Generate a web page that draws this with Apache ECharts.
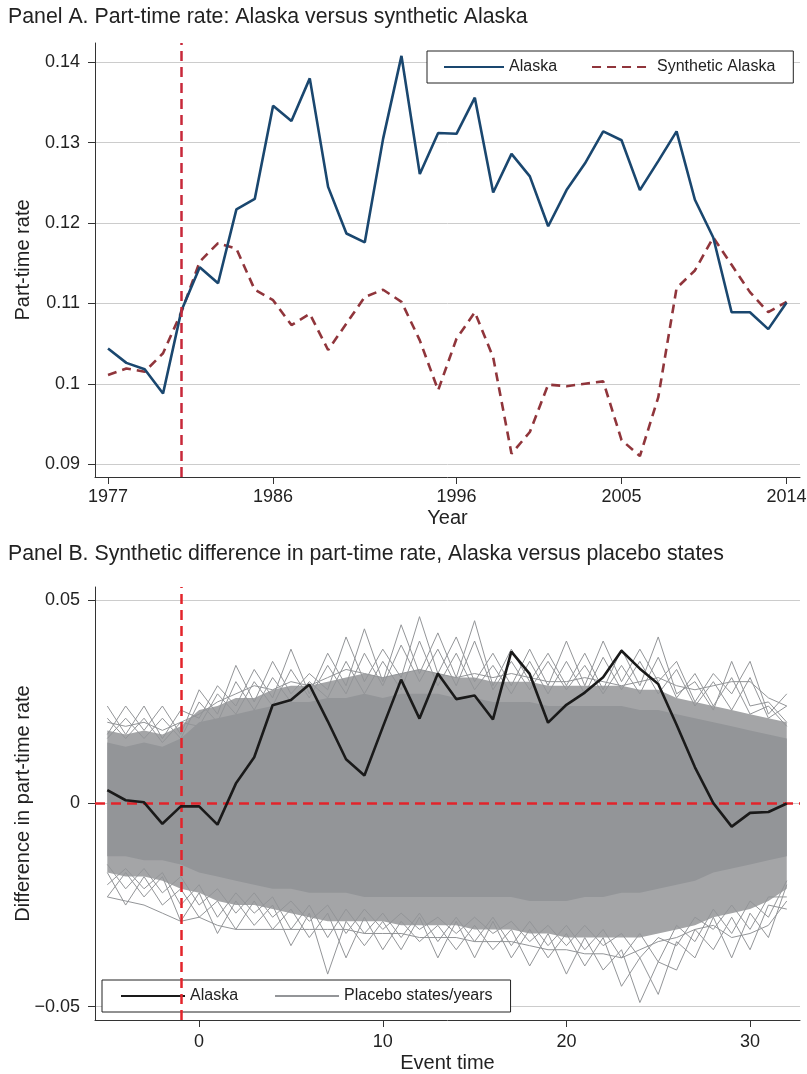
<!DOCTYPE html>
<html><head><meta charset="utf-8">
<script src="https://cdn.jsdelivr.net/npm/echarts@6/dist/echarts.min.js"></script>
<style>html,body{margin:0;padding:0;background:#fff}#c{width:807px;height:1074px}</style>
</head><body><div id="c"></div><script>
// ---------- Panel A data ----------
const years = [1977,1978,1979,1980,1981,1982,1983,1984,1985,1986,1987,1988,1989,1990,1991,1992,1993,1994,1995,1996,1997,1998,1999,2000,2001,2002,2003,2004,2005,2006,2007,2008,2009,2010,2011,2012,2013,2014];
const alaska = [0.1044,0.1026,0.1018,0.0988,0.1091,0.1145,0.1125,0.1217,0.1230,0.1346,0.1327,0.1380,0.1245,0.1187,0.1176,0.1305,0.1408,0.1261,0.1312,0.1311,0.1356,0.1238,0.1286,0.1258,0.1196,0.1241,0.1274,0.1314,0.1303,0.1241,0.1277,0.1314,0.1229,0.1182,0.1089,0.1089,0.1068,0.1101];
const syntheticAlaska = [0.1011,0.1019,0.1015,0.1038,0.1089,0.1152,0.1175,0.1168,0.1117,0.1104,0.1073,0.1087,0.1042,0.1075,0.1108,0.1117,0.1102,0.1054,0.0992,0.1056,0.1089,0.1033,0.0913,0.0940,0.0999,0.0997,0.1000,0.1003,0.0930,0.0910,0.0983,0.1119,0.1141,0.1182,0.1148,0.1114,0.1089,0.1102];
const yTicksA = [0.09,0.10,0.11,0.12,0.13,0.14];
const xTicksA = [1977,1986,1996,2005,2014];
const treatYearA = 1981;

// ---------- Panel B data ----------
const eventTime = [-5,-4,-3,-2,-1,0,1,2,3,4,5,6,7,8,9,10,11,12,13,14,15,16,17,18,19,20,21,22,23,24,25,26,27,28,29,30,31,32];
const alaskaDiff = [0.0033,0.0008,0.0003,-0.0050,-0.0007,-0.0007,-0.0052,0.0049,0.0114,0.0242,0.0255,0.0293,0.0203,0.0109,0.0069,0.0188,0.0305,0.0209,0.0320,0.0257,0.0266,0.0207,0.0374,0.0319,0.0199,0.0243,0.0273,0.0311,0.0376,0.0332,0.0294,0.0194,0.0089,0.0001,-0.0057,-0.0023,-0.0021,0.0000];
// dense core of placebo lines (solid grey region)
const denseHigh = [0.015,0.014,0.015,0.014,0.016,0.020,0.021,0.022,0.023,0.024,0.025,0.025,0.026,0.026,0.027,0.026,0.027,0.027,0.027,0.026,0.026,0.025,0.025,0.025,0.024,0.024,0.024,0.024,0.024,0.023,0.023,0.022,0.021,0.020,0.019,0.018,0.017,0.016];
const denseLow = [-0.013,-0.013,-0.014,-0.014,-0.015,-0.017,-0.018,-0.019,-0.020,-0.021,-0.021,-0.022,-0.022,-0.022,-0.023,-0.023,-0.023,-0.023,-0.023,-0.023,-0.023,-0.023,-0.023,-0.024,-0.024,-0.024,-0.023,-0.023,-0.022,-0.022,-0.021,-0.020,-0.019,-0.017,-0.016,-0.015,-0.014,-0.013];
// looser fringe of placebo lines
const fringeHigh = [0.018,0.017,0.018,0.017,0.019,0.023,0.024,0.026,0.026,0.028,0.029,0.029,0.030,0.031,0.032,0.031,0.032,0.033,0.032,0.031,0.031,0.030,0.030,0.030,0.029,0.029,0.029,0.029,0.029,0.028,0.028,0.026,0.025,0.024,0.023,0.022,0.021,0.020];
const fringeLow = [-0.017,-0.018,-0.018,-0.019,-0.021,-0.022,-0.024,-0.025,-0.025,-0.026,-0.027,-0.028,-0.029,-0.029,-0.029,-0.029,-0.030,-0.030,-0.030,-0.030,-0.031,-0.031,-0.031,-0.032,-0.032,-0.033,-0.033,-0.033,-0.033,-0.033,-0.032,-0.031,-0.030,-0.028,-0.027,-0.026,-0.024,-0.021];
// individual outlying placebo lines (estimated)
const placeboU1 = [0.024,0.017,0.024,0.016,0.023,0.021,0.029,0.024,0.033,0.026,0.038,0.027,0.037,0.029,0.043,0.030,0.044,0.032,0.042,0.031,0.045,0.029,0.038,0.030,0.037,0.029,0.037,0.028,0.038,0.029,0.041,0.027,0.030,0.023,0.035,0.024,0.025,0.020];
const placeboU2 = [0.017,0.024,0.018,0.024,0.017,0.028,0.022,0.034,0.025,0.035,0.027,0.032,0.028,0.041,0.030,0.038,0.031,0.046,0.032,0.041,0.030,0.037,0.029,0.038,0.029,0.040,0.029,0.040,0.030,0.038,0.030,0.035,0.025,0.032,0.027,0.035,0.022,0.027];
const placeboU3 = [0.021,0.016,0.021,0.015,0.020,0.019,0.027,0.022,0.030,0.024,0.033,0.026,0.034,0.027,0.037,0.029,0.039,0.030,0.038,0.029,0.040,0.028,0.035,0.028,0.035,0.028,0.034,0.027,0.034,0.027,0.036,0.026,0.032,0.024,0.031,0.022,0.024,0.019];
const placeboU4 = [0.016,0.021,0.016,0.021,0.016,0.025,0.020,0.030,0.023,0.031,0.025,0.030,0.026,0.035,0.027,0.035,0.028,0.040,0.029,0.037,0.028,0.034,0.027,0.035,0.027,0.035,0.027,0.036,0.028,0.035,0.027,0.033,0.024,0.030,0.023,0.031,0.021,0.024];
const placeboU5 = [0.020,0.019,0.020,0.018,0.020,0.022,0.025,0.027,0.029,0.028,0.030,0.029,0.031,0.033,0.032,0.031,0.032,0.033,0.032,0.031,0.032,0.031,0.032,0.031,0.030,0.030,0.031,0.030,0.029,0.030,0.031,0.029,0.028,0.029,0.030,0.030,0.026,0.024];
const placeboL1 = [-0.023,-0.017,-0.023,-0.018,-0.029,-0.022,-0.032,-0.024,-0.030,-0.025,-0.035,-0.027,-0.042,-0.029,-0.035,-0.029,-0.036,-0.028,-0.038,-0.029,-0.038,-0.029,-0.038,-0.031,-0.038,-0.032,-0.040,-0.033,-0.045,-0.038,-0.047,-0.034,-0.038,-0.028,-0.038,-0.027,-0.033,-0.020];
const placeboL2 = [-0.017,-0.025,-0.018,-0.025,-0.021,-0.028,-0.024,-0.031,-0.024,-0.031,-0.026,-0.033,-0.027,-0.038,-0.028,-0.036,-0.029,-0.034,-0.030,-0.036,-0.030,-0.036,-0.031,-0.040,-0.032,-0.042,-0.033,-0.041,-0.036,-0.049,-0.039,-0.041,-0.031,-0.036,-0.028,-0.036,-0.025,-0.026];
const placeboL3 = [-0.020,-0.016,-0.021,-0.017,-0.025,-0.020,-0.028,-0.022,-0.027,-0.023,-0.031,-0.025,-0.033,-0.026,-0.032,-0.027,-0.033,-0.027,-0.034,-0.028,-0.034,-0.028,-0.035,-0.029,-0.035,-0.030,-0.036,-0.031,-0.038,-0.032,-0.039,-0.030,-0.034,-0.026,-0.032,-0.024,-0.028,-0.019];
const placeboL4 = [-0.015,-0.021,-0.016,-0.022,-0.018,-0.025,-0.021,-0.027,-0.022,-0.028,-0.024,-0.029,-0.025,-0.032,-0.026,-0.031,-0.027,-0.031,-0.028,-0.032,-0.028,-0.032,-0.029,-0.034,-0.030,-0.035,-0.030,-0.035,-0.032,-0.038,-0.033,-0.035,-0.028,-0.031,-0.025,-0.031,-0.023,-0.023];
const placeboL5 = [-0.023,-0.024,-0.025,-0.027,-0.029,-0.028,-0.030,-0.031,-0.031,-0.031,-0.031,-0.031,-0.031,-0.031,-0.032,-0.032,-0.032,-0.033,-0.033,-0.033,-0.034,-0.034,-0.034,-0.035,-0.036,-0.036,-0.037,-0.037,-0.038,-0.036,-0.034,-0.033,-0.031,-0.030,-0.033,-0.032,-0.030,-0.024];
const yTicksB = [-0.05,0,0.05];
const xTicksB = [0,10,20,30];
const treatEventB = -1;

// ---------- helpers ----------
const FONT = 'Liberation Sans, Arial, Helvetica, sans-serif';
const TXT = '#222222';
const GREY = '#939598';
const pairs = (xs, ys) => xs.map((x, i) => [x, ys[i]]);

const axisCommon = {
  axisLine: {show: true, onZero: false, lineStyle: {color: '#333', width: 1}},
  axisTick: {show: true, length: 7, lineStyle: {color: '#333', width: 1}},
  axisLabel: {color: TXT, fontSize: 18, fontFamily: FONT},
  nameTextStyle: {color: TXT, fontSize: 20, fontFamily: FONT},
  nameLocation: 'middle',
  nameMoveOverlap: false
};

function bandSeries(name, hi, lo, color, z) {
  return {
    type: 'custom', name: name, xAxisIndex: 1, yAxisIndex: 1, silent: true, z: z, clip: true,
    data: [[0, 0]],
    renderItem: function (params, api) {
      const pts = [];
      for (let i = 0; i < eventTime.length; i++) pts.push(api.coord([eventTime[i], hi[i]]));
      for (let i = eventTime.length - 1; i >= 0; i--) pts.push(api.coord([eventTime[i], lo[i]]));
      return {type: 'polygon', shape: {points: pts}, style: {fill: color}};
    }
  };
}

const placeboSeries = [];
const extra = [placeboU1, placeboU2, placeboU3, placeboU4, placeboU5, placeboL1, placeboL2, placeboL3, placeboL4, placeboL5];
extra.forEach((arr, k) => {
  placeboSeries.push({
    name: k === 0 ? 'Placebo states/years' : 'placebo' + k,
    type: 'line', xAxisIndex: 1, yAxisIndex: 1, symbol: 'none', silent: true,
    lineStyle: {color: GREY, width: 1}, itemStyle: {color: GREY}, z: 3,
    data: pairs(eventTime, arr)
  });
});

const legendCommon = {
  orient: 'horizontal', itemHeight: 14, borderColor: '#222', borderWidth: 1,
  backgroundColor: '#fff', z: 5, borderRadius: 0,
  itemStyle: {opacity: 0, borderWidth: 0},
  textStyle: {fontSize: 16, color: TXT, fontFamily: FONT}
};

const chart = echarts.init(document.getElementById('c'), null, {renderer: 'canvas'});
const option = {
  animation: false,
  backgroundColor: '#fff',
  textStyle: {fontFamily: FONT},
  title: [
    {text: 'Panel A. Part-time rate: Alaska versus synthetic Alaska', left: 8, top: 7, padding: 0,
     textStyle: {fontSize: 21.3, fontWeight: 'normal', color: TXT, fontFamily: FONT}},
    {text: 'Panel B. Synthetic difference in part-time rate, Alaska versus placebo states', left: 8, top: 544, padding: 0,
     textStyle: {fontSize: 21.3, fontWeight: 'normal', color: TXT, fontFamily: FONT}}
  ],
  legend: [
    Object.assign({}, legendCommon, {data: ['Alaska', 'Synthetic Alaska'], left: 427, top: 51,
      padding: [8, 18, 8, 16], itemGap: 34, itemWidth: 60}),
    Object.assign({}, legendCommon, {data: ['Alaska B', 'Placebo states/years'], left: 102, top: 980,
      padding: [8, 18, 8, 18], itemGap: 36, itemWidth: 64,
      formatter: n => n === 'Alaska B' ? 'Alaska' : n})
  ],
  grid: [
    {left: 95, right: 7, top: 43, height: 434, outerBoundsMode: 'none', containLabel: false},
    {left: 95, right: 7, top: 587, height: 433, outerBoundsMode: 'none', containLabel: false}
  ],
  xAxis: [
    Object.assign({}, axisCommon, {
      type: 'value', gridIndex: 0, min: 1976.29, max: 2014.73, name: 'Year', nameGap: 31,
      splitLine: {show: false},
      axisTick: Object.assign({}, axisCommon.axisTick, {customValues: xTicksA}),
      axisLabel: Object.assign({}, axisCommon.axisLabel, {customValues: xTicksA, margin: 11, formatter: v => String(v)})
    }),
    Object.assign({}, axisCommon, {
      type: 'value', gridIndex: 1, min: -5.67, max: 32.72, name: 'Event time', nameGap: 33,
      splitLine: {show: false},
      axisTick: Object.assign({}, axisCommon.axisTick, {customValues: xTicksB}),
      axisLabel: Object.assign({}, axisCommon.axisLabel, {customValues: xTicksB, margin: 13, formatter: v => String(v)})
    })
  ],
  yAxis: [
    Object.assign({}, axisCommon, {
      type: 'value', gridIndex: 0, min: 0.0884, max: 0.1424, name: 'Part-time rate', nameGap: 62,
      splitLine: {show: true, lineStyle: {color: '#cccccc', width: 1}},
      axisTick: Object.assign({}, axisCommon.axisTick, {customValues: yTicksA}),
      axisLabel: Object.assign({}, axisCommon.axisLabel, {customValues: yTicksA, margin: 15,
        formatter: v => String(+v.toFixed(3))})
    }),
    Object.assign({}, axisCommon, {
      type: 'value', gridIndex: 1, min: -0.0533, max: 0.0533, name: 'Difference in part-time rate', nameGap: 62,
      splitLine: {show: true, lineStyle: {color: '#cccccc', width: 1}},
      axisTick: Object.assign({}, axisCommon.axisTick, {customValues: yTicksB}),
      axisLabel: Object.assign({}, axisCommon.axisLabel, {customValues: yTicksB, margin: 15,
        formatter: v => { const r = +v.toFixed(3); return r < 0 ? '\u2212' + String(-r) : String(r); }})
    })
  ],
  series: [
    // Panel A
    {name: 'Alaska', type: 'line', xAxisIndex: 0, yAxisIndex: 0, symbol: 'none', z: 4,
     lineStyle: {color: '#1a476f', width: 2.6}, itemStyle: {color: '#1a476f'},
     data: pairs(years, alaska)},
    {name: 'Synthetic Alaska', type: 'line', xAxisIndex: 0, yAxisIndex: 0, symbol: 'none', z: 3,
     lineStyle: {color: '#90353b', width: 2.6, type: [9, 6]}, itemStyle: {color: '#90353b'},
     data: pairs(years, syntheticAlaska)},
    {name: 'refA', type: 'line', xAxisIndex: 0, yAxisIndex: 0, data: [], z: 6,
     markLine: {silent: true, symbol: 'none', label: {show: false}, animation: false,
       lineStyle: {color: '#c8283a', width: 2.5, type: [10, 6]}, data: [{xAxis: treatYearA}]}},
    // Panel B placebo bands
    bandSeries('fringe', fringeHigh, fringeLow, '#a4a5a7', 1),
    bandSeries('dense', denseHigh, denseLow, GREY, 2),
    ...placeboSeries,
    {name: 'Alaska B', type: 'line', xAxisIndex: 1, yAxisIndex: 1, symbol: 'none', z: 7,
     lineStyle: {color: '#1a1a1a', width: 2.6}, itemStyle: {color: '#1a1a1a'},
     data: pairs(eventTime, alaskaDiff)},
    {name: 'refB', type: 'line', xAxisIndex: 1, yAxisIndex: 1, data: [], z: 10,
     markLine: {silent: true, symbol: 'none', label: {show: false}, animation: false,
       lineStyle: {color: '#e3242b', width: 2.5, type: [10, 6]}, data: [{xAxis: treatEventB}, {yAxis: 0}]}}
  ]
};
chart.setOption(option);
</script></body></html>
